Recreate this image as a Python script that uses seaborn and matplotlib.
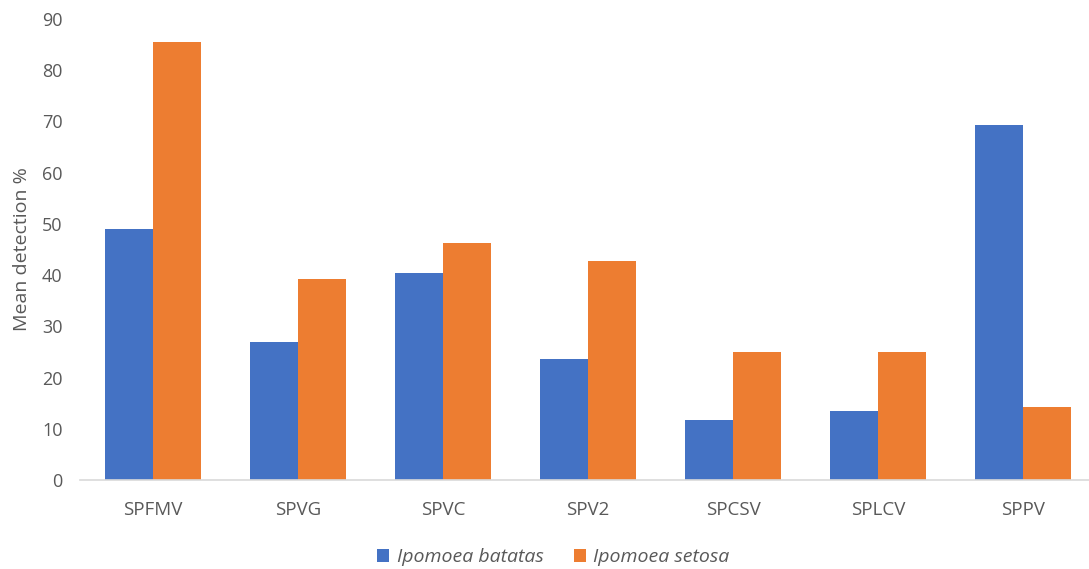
import matplotlib
matplotlib.use("Agg")
import matplotlib.pyplot as plt
import seaborn as sns
import pandas as pd
from matplotlib.patches import Patch

viruses = ["SPFMV", "SPVG", "SPVC", "SPV2", "SPCSV", "SPLCV", "SPPV"]
batatas = [49.0, 27.0, 40.5, 23.6, 11.8, 13.5, 69.3]
setosa = [85.6, 39.2, 46.3, 42.8, 25.0, 25.0, 14.3]
species = ["Ipomoea batatas", "Ipomoea setosa"]
colors = ["#4472C4", "#ED7D31"]

df = pd.DataFrame({
    "virus": viruses * 2,
    "value": batatas + setosa,
    "species": [species[0]] * len(viruses) + [species[1]] * len(viruses),
})

sns.set_theme(style="white")
plt.rcParams["font.family"] = ["Open Sans", "DejaVu Sans"]

fig = plt.figure(figsize=(10.89, 5.69), dpi=100)
ax = fig.add_axes([0.0739, 0.1564, 0.932, 0.8102])

sns.barplot(data=df, x="virus", y="value", hue="species", order=viruses,
            hue_order=species, palette=colors, width=0.662, gap=0,
            linewidth=0, saturation=1, ax=ax, legend=False)

ax.set_ylim(0, 90)
ax.set_yticks(range(0, 91, 10))
ax.set_xlim(-0.5, len(viruses) - 0.5)
ax.set_xlabel("")
ax.set_ylabel("Mean detection %", color="#595959", fontsize=14, labelpad=8)
ax.tick_params(axis="y", colors="#595959", labelsize=13, length=0, pad=13)
ax.tick_params(axis="x", colors="#595959", labelsize=13.5, length=0, pad=15)
for side in ["top", "right", "left"]:
    ax.spines[side].set_visible(False)
ax.spines["bottom"].set_color("#d9d9d9")
ax.spines["bottom"].set_linewidth(1.2)
ax.grid(False)

handles = [Patch(facecolor=c, edgecolor="none") for c in colors]
leg = fig.legend(handles, species, loc="center", bbox_to_anchor=(0.508, 0.021),
                 ncol=2, frameon=False, handlelength=0.62, handleheight=0.62,
                 handletextpad=0.4, columnspacing=1.55,
                 prop={"style": "italic", "size": 14})
for t in leg.get_texts():
    t.set_color("#595959")

fig.savefig("out.png", dpi=100)
